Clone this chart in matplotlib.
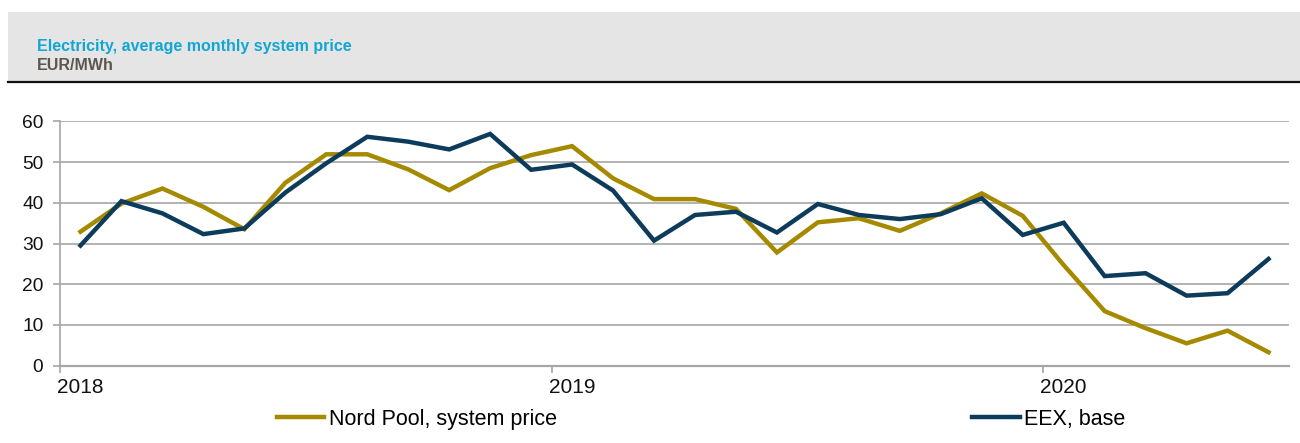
import matplotlib.pyplot as plt
import matplotlib.transforms as mtransforms
import numpy as np
from matplotlib.patches import Rectangle
from matplotlib.lines import Line2D

plt.rcParams['font.family'] = ['Liberation Sans', 'DejaVu Sans']

# monthly values Jan 2018 .. Jun 2020, EUR/MWh
nord_pool = [32.9, 39.8, 43.5, 39.0, 33.5, 44.9, 51.9, 51.9, 48.2, 43.1,
             48.5, 51.7, 53.9, 46.0, 40.9, 40.9, 38.5, 27.8, 35.2, 36.2,
             33.1, 37.4, 42.3, 36.8, 24.7, 13.4, 9.2, 5.5, 8.6, 3.3]
eex_base = [29.5, 40.4, 37.4, 32.3, 33.7, 42.5, 49.7, 56.2, 55.0, 53.1,
            56.9, 48.1, 49.4, 43.0, 30.7, 37.0, 37.8, 32.7, 39.7, 37.0,
            36.0, 37.2, 41.1, 32.1, 35.1, 22.0, 22.7, 17.2, 17.8, 26.2]
years = ['2018', '2019', '2020']
yticks = [0, 10, 20, 30, 40, 50, 60]

gold = '#a58a00'
navy = '#0d3b5c'
gridc = '#a6a6a6'

fig = plt.figure(figsize=(13, 4.43), dpi=100)

# header band
fig.patches.append(Rectangle((8 / 1300, 1 - 81 / 443), 1 - 8 / 1300, 69 / 443,
                             transform=fig.transFigure, facecolor='#e5e5e5',
                             edgecolor='none', zorder=0))
fig.add_artist(Line2D([8 / 1300, 1], [1 - 82 / 443, 1 - 82 / 443],
                      transform=fig.transFigure, color='#111111', lw=1.6))
fig.text(37 / 1300, 1 - 47 / 443, 'Electricity, average monthly system price',
         color='#12a6d3', fontsize=11.5, fontweight='bold', va='center')
fig.text(37 / 1300, 1 - 65 / 443, 'EUR/MWh', color='#5b5650',
         fontsize=11.5, fontweight='bold', va='center')

ax = fig.add_axes([60 / 1300, 1 - 365.7 / 443, 1229 / 1300, 244.4 / 443])
x = np.arange(len(nord_pool))
ax.plot(x, nord_pool, color=gold, lw=3.2, label='Nord Pool, system price',
        solid_joinstyle='miter', zorder=3)
ax.plot(x, eex_base, color=navy, lw=3.2, label='EEX, base',
        solid_joinstyle='miter', zorder=3)

ax.set_xlim(-0.5, len(nord_pool) - 0.5)
ax.set_ylim(0, 60)
ax.set_yticks(yticks)
ax.set_xticks([-0.5 + 12 * i for i in range(len(years))])
ax.set_xticklabels(years, ha='left')
ax.tick_params(axis='both', colors=gridc, labelcolor='#111111',
               length=5, width=1.2)
ax.tick_params(axis='y', pad=7, labelsize=13.8)
ax.tick_params(axis='x', pad=4, labelsize=15)
shift = mtransforms.ScaledTranslation(-3 / 100, 0, fig.dpi_scale_trans)
for lbl in ax.get_xticklabels():
    lbl.set_transform(lbl.get_transform() + shift)
ax.grid(axis='y', color=gridc, lw=1.2)
ax.set_axisbelow(True)
for s in ['top', 'right']:
    ax.spines[s].set_visible(False)
ax.spines['left'].set_color(gridc)
ax.spines['left'].set_linewidth(1.2)
ax.spines['bottom'].set_color(gridc)
ax.spines['bottom'].set_linewidth(1.6)

fig.legend(loc='center left', bbox_to_anchor=(277 / 1300, 1 - 419 / 443),
           ncol=2, frameon=False, fontsize=15.5, handlelength=2.2,
           handletextpad=0.2, columnspacing=19.3, borderaxespad=0,
           borderpad=0)

fig.savefig('out.png', dpi=100)
